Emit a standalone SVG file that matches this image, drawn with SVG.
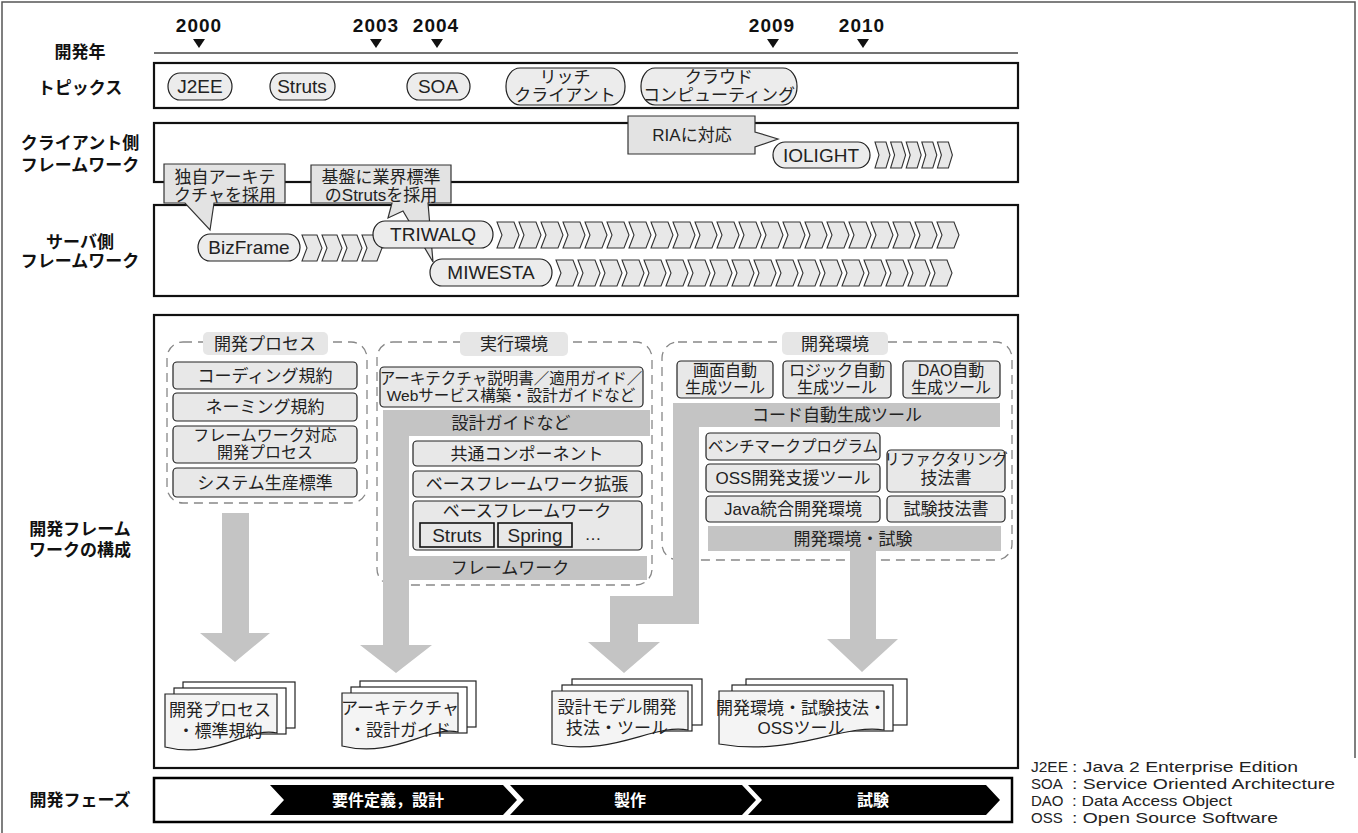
<svg xmlns="http://www.w3.org/2000/svg" width="1358" height="833" viewBox="0 0 1358 833">
<style>
text{font-family:"Liberation Sans","Noto Sans CJK JP",sans-serif;font-size:17px;fill:#222;text-anchor:middle}
.lbl{font-weight:bold;fill:#111}
.yr{font-weight:bold;font-size:19px;fill:#111;letter-spacing:1px}
.en{font-size:19px}
.sm{font-size:15.5px}
.two{font-size:16px}
.row{fill:none;stroke:#111;stroke-width:2.2}
.pill{fill:#ececec;stroke:#222;stroke-width:1.2}
.item{fill:#e8e8e8;stroke:#222;stroke-width:1.2}
.sub{fill:#e8e8e8;stroke:#111;stroke-width:1.6}
.dash{fill:none;stroke:#888;stroke-width:1.3;stroke-dasharray:9 6}
.tag{fill:#e6e6e6}
.band{fill:#c4c4c4}
.call{fill:#e3e3e3;stroke:#333;stroke-width:1.2}
.page{fill:#fff;stroke:#222;stroke-width:1.2}
.front{fill:#f4f4f4;stroke:#222;stroke-width:1.2}
.pht{fill:#fff;font-weight:bold;font-size:16px}
.leg{text-anchor:start;font-size:15px;fill:#222}
.ab{text-anchor:start;font-size:15px;fill:#222}
</style>
<defs>
<path id="cv" d="M0,0h17l5,13l-5,13h-17l5,-13z" fill="#e8e8e8" stroke="#333" stroke-width="1.1"/>
<path id="cvb" d="M0,0h15l5,13l-5,13h-15l5,-13z" fill="#e8e8e8" stroke="#333" stroke-width="1.1"/>
<path id="cvs" d="M0,0h11l4,13l-4,13h-11l4,-13z" fill="#e8e8e8" stroke="#333" stroke-width="1.1"/>
<polygon id="tri" points="-6,0 6,0 0,9" fill="#111"/>
</defs>

<path id="outer" d="M2,833V2H1355V758" fill="none" stroke="#555" stroke-width="1.5"/>

<g id="labels">
<text class="lbl" x="80" y="58">開発年</text>
<text class="lbl" x="80" y="94">トピックス</text>
<text class="lbl" x="80" y="149">クライアント側</text>
<text class="lbl" x="80" y="171">フレームワーク</text>
<text class="lbl" x="80" y="248">サーバ側</text>
<text class="lbl" x="80" y="267">フレームワーク</text>
<text class="lbl" x="80" y="535">開発フレーム</text>
<text class="lbl" x="80" y="556">ワークの構成</text>
<text class="lbl" x="80" y="806">開発フェーズ</text>
</g>

<g id="timeline">
<text class="yr" x="199" y="32">2000</text>
<text class="yr" x="376" y="32">2003</text>
<text class="yr" x="436" y="32">2004</text>
<text class="yr" x="772" y="32">2009</text>
<text class="yr" x="862" y="32">2010</text>
<use href="#tri" x="199" y="39"/>
<use href="#tri" x="376" y="39"/>
<use href="#tri" x="437" y="39"/>
<use href="#tri" x="773" y="39"/>
<use href="#tri" x="863" y="39"/>
<line x1="154" y1="53" x2="1018" y2="53" stroke="#444" stroke-width="1.5"/>
</g>

<g id="topics">
<rect class="row" x="154" y="63" width="864" height="45"/>
<rect class="pill" x="168" y="73" width="64" height="27" rx="12" ry="13.5"/>
<text class="en" x="200" y="93">J2EE</text>
<rect class="pill" x="270" y="73" width="65" height="27" rx="12" ry="13.5"/>
<text class="en" x="302" y="93">Struts</text>
<rect class="pill" x="407" y="73" width="63" height="27" rx="12" ry="13.5"/>
<text class="en" x="438" y="93">SOA</text>
<rect class="pill" x="506" y="68" width="119" height="37" rx="14" ry="18"/>
<text x="565" y="83">リッチ</text>
<text x="565" y="101">クライアント</text>
<rect class="pill" x="641" y="68" width="156" height="37" rx="14" ry="18"/>
<text x="719" y="83">クラウド</text>
<text x="719" y="101">コンピューティング</text>
</g>

<g id="client">
<rect class="row" x="154" y="123" width="864" height="59"/>
</g>

<g id="server">
<rect class="row" x="154" y="205" width="864" height="91"/>
</g>

<g id="callouts">
<path class="call" d="M628,116H755V132L778,139L755,147V154H628Z"/>
<text x="692" y="141">RIAに対応</text>
<path class="call" d="M164,164H285V203H214L210,230L185,203H164Z"/>
<text x="225" y="183">独自アーキテ</text>
<text x="225" y="201">クチャを採用</text>
<path class="call" d="M311,165H451V203H428L433,262L403,211L388,218L392,203H311Z"/>
<text x="381" y="183">基盤に業界標準</text>
<text x="381" y="201">のStrutsを採用</text>
</g>

<g id="chevrons">
<use href="#cvs" x="875" y="142"/><use href="#cvs" x="890.6" y="142"/><use href="#cvs" x="906.2" y="142"/><use href="#cvs" x="921.8" y="142"/><use href="#cvs" x="937.4" y="142"/>
<use href="#cvb" x="302" y="235"/><use href="#cvb" x="322" y="235"/><use href="#cvb" x="342" y="235"/><use href="#cvb" x="362" y="235"/>
<use href="#cv" x="497" y="222"/><use href="#cv" x="519" y="222"/><use href="#cv" x="541" y="222"/><use href="#cv" x="563" y="222"/><use href="#cv" x="585" y="222"/><use href="#cv" x="607" y="222"/><use href="#cv" x="629" y="222"/><use href="#cv" x="651" y="222"/><use href="#cv" x="673" y="222"/><use href="#cv" x="695" y="222"/><use href="#cv" x="717" y="222"/><use href="#cv" x="739" y="222"/><use href="#cv" x="761" y="222"/><use href="#cv" x="783" y="222"/><use href="#cv" x="805" y="222"/><use href="#cv" x="827" y="222"/><use href="#cv" x="849" y="222"/><use href="#cv" x="871" y="222"/><use href="#cv" x="893" y="222"/><use href="#cv" x="915" y="222"/><use href="#cv" x="937" y="222"/>
<use href="#cv" x="556" y="260"/><use href="#cv" x="578" y="260"/><use href="#cv" x="600" y="260"/><use href="#cv" x="622" y="260"/><use href="#cv" x="644" y="260"/><use href="#cv" x="666" y="260"/><use href="#cv" x="688" y="260"/><use href="#cv" x="710" y="260"/><use href="#cv" x="732" y="260"/><use href="#cv" x="754" y="260"/><use href="#cv" x="776" y="260"/><use href="#cv" x="798" y="260"/><use href="#cv" x="820" y="260"/><use href="#cv" x="842" y="260"/><use href="#cv" x="864" y="260"/><use href="#cv" x="886" y="260"/><use href="#cv" x="908" y="260"/><use href="#cv" x="930" y="260"/>
</g>

<g id="iolight">
<rect class="pill" x="773" y="142" width="97" height="26" rx="12" ry="13"/>
<text class="en" x="821" y="162">IOLIGHT</text>
</g>
<g id="bizframe">
<rect class="pill" x="198" y="234" width="102" height="27" rx="12" ry="13.5"/>
<text class="en" x="249" y="254">BizFrame</text>
</g>
<g id="triwalq">
<rect class="pill" x="373" y="221" width="120" height="27" rx="12" ry="13.5"/>
<text class="en" x="433" y="241">TRIWALQ</text>
</g>
<g id="miwesta">
<rect class="pill" x="430" y="259" width="122" height="27" rx="12" ry="13.5"/>
<text class="en" x="491" y="279">MIWESTA</text>
</g>

<g id="devframe">
<rect class="row" x="154" y="315" width="864" height="453"/>
</g>

<g id="proc">
<rect class="dash" x="167" y="342" width="200" height="161" rx="16"/>
<rect class="tag" x="203" y="332" width="125" height="23" rx="5"/>
<text x="265" y="350">開発プロセス</text>
<rect class="item" x="173" y="362" width="184" height="27" rx="4"/>
<text x="265" y="382">コーディング規約</text>
<rect class="item" x="173" y="393" width="184" height="28" rx="4"/>
<text x="265" y="413">ネーミング規約</text>
<rect class="item" x="173" y="426" width="184" height="37" rx="4"/>
<text class="two" x="265" y="441">フレームワーク対応</text>
<text class="two" x="265" y="458">開発プロセス</text>
<rect class="item" x="173" y="468" width="184" height="29" rx="4"/>
<text x="265" y="489">システム生産標準</text>
</g>

<g id="runtime">
<rect class="dash" x="377" y="342" width="275" height="243" rx="16"/>
<rect class="tag" x="460" y="332" width="108" height="24" rx="5"/>
<text x="514" y="350">実行環境</text>
<rect class="item" x="380" y="367" width="263" height="40" rx="4"/>
<text class="sm" x="511" y="384">アーキテクチャ説明書／適用ガイド／</text>
<text class="sm" x="511" y="401">Webサービス構築・設計ガイドなど</text>
<rect class="item" x="413" y="441" width="229" height="25" rx="4"/>
<text x="527" y="460">共通コンポーネント</text>
<rect class="item" x="413" y="471" width="229" height="26" rx="4"/>
<text x="527" y="490">ベースフレームワーク拡張</text>
<rect class="item" x="413" y="501" width="229" height="49" rx="4"/>
<text x="527" y="517">ベースフレームワーク</text>
<rect class="sub" x="420" y="523" width="74" height="24"/>
<text class="en" x="457" y="542">Struts</text>
<rect class="sub" x="498" y="523" width="74" height="24"/>
<text class="en" x="535" y="542">Spring</text>
<text x="593" y="540">…</text>
</g>

<g id="devenv">
<rect class="dash" x="662" y="342" width="350" height="218" rx="16"/>
<rect class="tag" x="782" y="332" width="106" height="23" rx="5"/>
<text x="835" y="350">開発環境</text>
<rect class="item" x="677" y="361" width="96" height="37" rx="4"/>
<text class="two" x="725" y="376">画面自動</text>
<text class="two" x="725" y="393">生成ツール</text>
<rect class="item" x="783" y="361" width="108" height="37" rx="4"/>
<text class="two" x="837" y="376">ロジック自動</text>
<text class="two" x="837" y="393">生成ツール</text>
<rect class="item" x="903" y="361" width="97" height="37" rx="4"/>
<text class="two" x="951" y="376">DAO自動</text>
<text class="two" x="951" y="393">生成ツール</text>
<rect class="item" x="706" y="433" width="174" height="27" rx="4"/>
<text class="sm" x="793" y="452">ベンチマークプログラム</text>
<rect class="item" x="706" y="464" width="174" height="28" rx="4"/>
<text x="793" y="484">OSS開発支援ツール</text>
<rect class="item" x="706" y="496" width="174" height="26" rx="4"/>
<text x="793" y="515">Java統合開発環境</text>
<rect class="item" x="887" y="450" width="118" height="42" rx="4"/>
<text class="sm" x="946" y="465">リファクタリング</text>
<text x="946" y="484">技法書</text>
<rect class="item" x="887" y="496" width="118" height="26" rx="4"/>
<text x="946" y="515">試験技法書</text>
</g>

<g id="connectors">
<polygon class="band" points="222,513 249,513 249,633 270,633 235,662 200,633 222,633"/>
<polygon class="band" points="383,410 650,410 650,436 409,436 409,556 647,556 647,580 409,580 409,645 432,645 396,673 360,645 383,645"/>
<polygon class="band" points="673,403 1000,403 1000,427 699,427 699,624 638,624 638,642 660,642 624,673 588,642 610,642 610,596 673,596"/>
<rect class="band" x="708" y="526" width="293" height="25"/>
<polygon class="band" points="850,550 876,550 876,639 898,639 862,672 827,639 850,639"/>
<text x="511" y="429">設計ガイドなど</text>
<text x="510" y="574">フレームワーク</text>
<text x="837" y="421">コード自動生成ツール</text>
<text x="853" y="545">開発環境・試験</text>
</g>

<g id="doc1">
<rect class="page" x="183" y="682" width="112" height="46"/>
<rect class="page" x="174" y="688" width="112" height="46"/>
<path class="front" d="M165,694H277V733C249,726 215,760 165,747Z"/>
<text x="220" y="716">開発プロセス</text>
<text x="220" y="737">・標準規約</text>
</g>
<g id="doc2">
<rect class="page" x="360" y="681" width="116" height="46"/>
<rect class="page" x="351" y="687" width="116" height="46"/>
<path class="front" d="M342,693H458V732C429,725 394,759 342,746Z"/>
<text x="400" y="714">アーキテクチャ</text>
<text x="400" y="736">・設計ガイド</text>
</g>
<g id="doc3">
<rect class="page" x="572" y="679" width="130" height="46"/>
<rect class="page" x="562" y="685" width="130" height="46"/>
<path class="front" d="M552,691H688V730C654,723 613,757 552,744Z"/>
<text x="617" y="713">設計モデル開発</text>
<text x="617" y="734">技法・ツール</text>
</g>
<g id="doc4">
<rect class="page" x="746" y="679" width="161" height="46"/>
<rect class="page" x="732" y="685" width="161" height="46"/>
<path class="front" d="M719,691H884V730C843,723 793,757 719,744Z"/>
<text x="801" y="714">開発環境・試験技法・</text>
<text x="801" y="734">OSSツール</text>
</g>

<g id="phase">
<rect x="154" y="778" width="858" height="44" fill="#fff" stroke="#000" stroke-width="2.5"/>
<path d="M270,785H503L517,800L503,815H270L284,800Z" fill="#000"/>
<path d="M510,785H742L756,800L742,815H510L524,800Z" fill="#000"/>
<path d="M748,785H986L1000,800L986,815H748L762,800Z" fill="#000"/>
<text class="pht" x="388" y="806">要件定義，設計</text>
<text class="pht" x="630" y="806">製作</text>
<text class="pht" x="873" y="806">試験</text>
</g>

<g id="legend">
<text class="ab" x="1031" y="772" textLength="37" lengthAdjust="spacingAndGlyphs">J2EE</text>
<text class="leg" x="1072" y="772" textLength="226" lengthAdjust="spacingAndGlyphs">: Java 2 Enterprise Edition</text>
<text class="ab" x="1031" y="789">SOA</text>
<text class="leg" x="1072" y="789" textLength="263" lengthAdjust="spacingAndGlyphs">: Service Oriented Architecture</text>
<text class="ab" x="1031" y="806">DAO</text>
<text class="leg" x="1072" y="806" textLength="160" lengthAdjust="spacingAndGlyphs">: Data Access Object</text>
<text class="ab" x="1031" y="823">OSS</text>
<text class="leg" x="1072" y="823" textLength="206" lengthAdjust="spacingAndGlyphs">: Open Source Software</text>
</g>
</svg>
